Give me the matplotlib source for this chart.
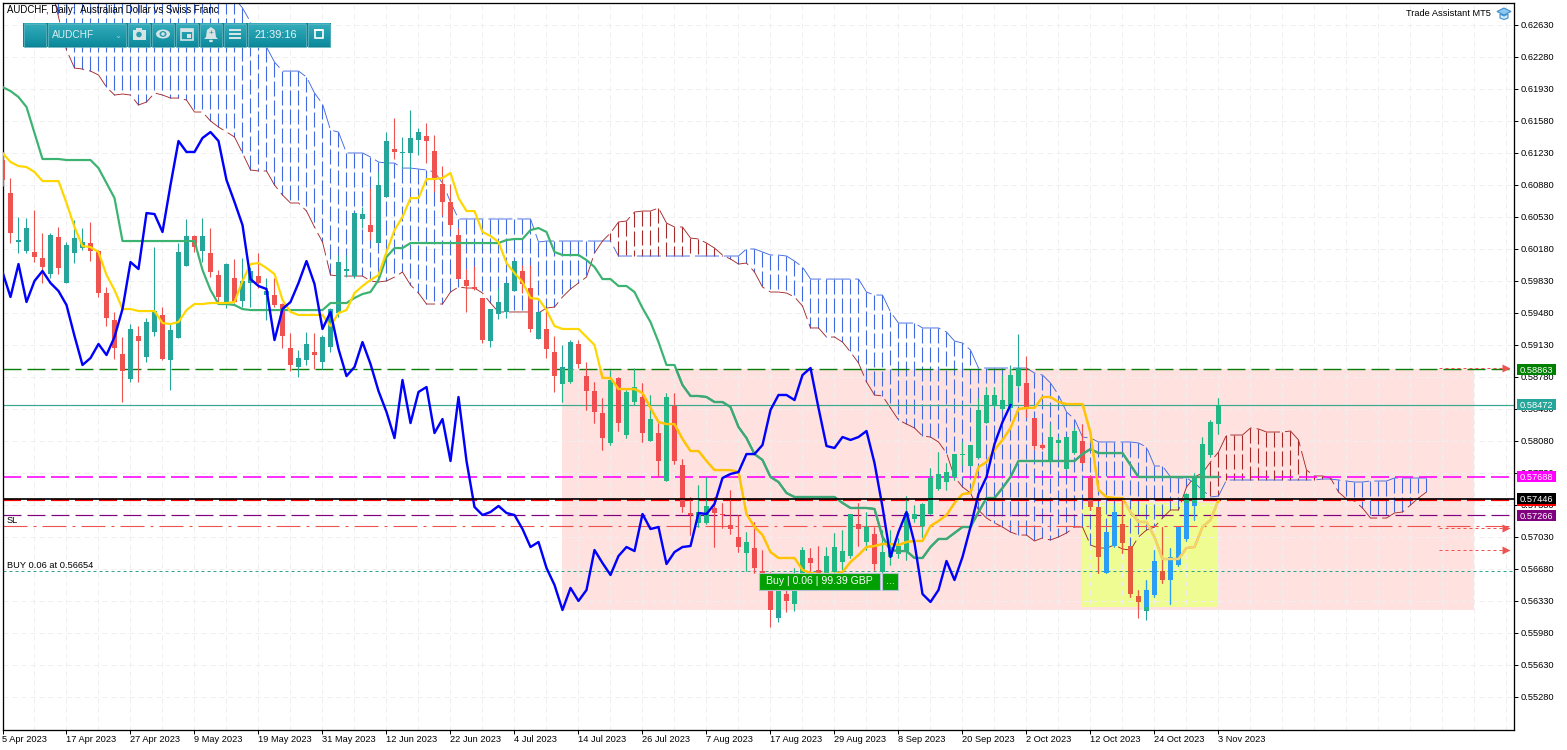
import numpy as np
import matplotlib
matplotlib.use("Agg")
import matplotlib.pyplot as plt
from matplotlib.patches import Rectangle, Ellipse, Polygon
from matplotlib.transforms import Bbox, TransformedBbox

plt.rcParams['font.family'] = ['Liberation Sans', 'DejaVu Sans']

opens = [.61150,.60789,.60253,.60155,.60144,.60078,.59903,.60308,.59805,.60133,
 .60187,.60242,.60155,.59695,.59400,.59028,.58755,.59225,.58995,.59269,
 .59455,.58963,.59203,.59991,.60319,.60155,.60133,.59892,.59597,.59859,
 .59608,.59805,.59881,.59673,.59673,.59575,.59094,.58886,.58963,.59050,
 .58941,.59105,.59477,.59936,.59881,.60505,.60439,.60242,.60745,.61270,
 .61227,.61227,.61369,.61413,.61248,.60888,.60691,.60330,.59838,.59761,
 .59641,.59170,.59466,.59488,.59717,.59936,.59750,.59192,.59302,.59050,
 .58700,.58722,.59138,.58787,.58623,.58383,.58055,.58766,.58142,.58503,
 .58558,.58077,.58164,.57639,.58459,.57814,.57289,.57180,.57180,.57344,
 .57278,.57158,.57027,.56852,.56906,.56655,.56502,.56141,.56403,.56294,
 .56447,.56797,.56666,.56633,.56644,.56753,.56819,.57169,.56972,.57059,
 .56644,.56808,.56841,.56862,.57224,.57147,.57278,.57552,.57628,.57683,
 .57923,.57803,.57891,.58273,.58470,.58427,.58438,.58678,.58711,.58328,
 .58033,.57869,.58055,.57770,.57945,.58077,.57672,.57355,.56633,.56928,
 .57169,.56928,.56381,.56217,.56392,.56655,.56556,.56720,.57005,.57366,
 .57453,.57923,.58262]
closes = [.60931,.60352,.60275,.60406,.60089,.59980,.60330,.59969,.60220,.60297,
 .60253,.60155,.59695,.59422,.59094,.58842,.59302,.59170,.59378,.59498,
 .58974,.59291,.60144,.60319,.60198,.60319,.59925,.59652,.60012,.59597,
 .59827,.59936,.59805,.59717,.59564,.59225,.58908,.58984,.59138,.59017,
 .59214,.59520,.60034,.59958,.60570,.60559,.60363,.60877,.61358,.61238,
 .61238,.61391,.61456,.61358,.60931,.60691,.60439,.59848,.59772,.59739,
 .59181,.59520,.59597,.59805,.60045,.59794,.59302,.59488,.59083,.58787,
 .58886,.59159,.58919,.58623,.58394,.58109,.58744,.58273,.58613,.58667,
 .58164,.58317,.57858,.58558,.57858,.57355,.57267,.57300,.57366,.57289,
 .57267,.57114,.56917,.56972,.56688,.56502,.56228,.56469,.56327,.56447,
 .56884,.56742,.56611,.56819,.56917,.56873,.57278,.57114,.57136,.56731,
 .56862,.56917,.56928,.57289,.57278,.57388,.57672,.57716,.57737,.57934,
 .57934,.58033,.58416,.58580,.58580,.58525,.58798,.58875,.58438,.58022,
 .58000,.58120,.58088,.58120,.58186,.57836,.57355,.56808,.57081,.57300,
 .56961,.56403,.56316,.56447,.56764,.56556,.56808,.57136,.57497,.57683,
 .58044,.58284,.58470]
highs = [.61238,.60953,.60527,.60516,.60603,.60352,.60352,.60417,.60253,.60494,
 .60406,.60472,.60166,.59761,.59488,.59214,.59356,.59334,.59422,.60198,
 .59542,.59367,.60242,.60505,.60330,.60516,.60406,.59947,.60023,.60067,
 .60078,.59980,.60133,.59859,.59859,.59586,.59258,.59072,.59269,.59258,
 .59236,.59531,.60111,.60111,.60570,.60636,.60844,.61019,.61456,.61609,
 .61402,.61697,.61500,.61555,.61423,.61084,.60888,.60406,.59958,.59991,
 .59641,.59520,.59750,.59805,.60045,.60002,.60002,.59488,.59509,.59225,
 .59127,.59181,.59181,.58941,.58722,.58547,.58853,.58777,.58634,.58875,
 .58711,.58580,.58273,.58602,.58602,.57880,.57464,.57595,.57683,.57464,
 .57399,.57541,.57267,.57081,.57191,.56884,.56644,.56556,.56447,.56688,
 .56917,.56906,.56928,.56917,.57070,.57103,.57278,.57399,.57300,.57136,
 .57103,.57103,.57016,.57475,.57377,.57399,.57781,.57956,.57836,.57934,
 .58066,.58033,.58547,.58667,.58667,.58798,.58908,.59247,.59006,.58328,
 .58055,.58262,.58120,.58120,.58219,.58262,.57705,.57355,.57081,.57377,
 .57464,.56928,.56447,.56556,.56884,.57136,.56906,.57136,.57508,.57727,
 .58120,.58306,.58547]
lows = [.60866,.60242,.60133,.60133,.60034,.59805,.59859,.59903,.59805,.60023,
 .60166,.60045,.59652,.59334,.58974,.58503,.58722,.58722,.58941,.59225,
 .58963,.58634,.59203,.59991,.60144,.60034,.59870,.59597,.59531,.59586,
 .59542,.59542,.59750,.59400,.59542,.59094,.58842,.58777,.58908,.58864,
 .58864,.59050,.59433,.59870,.59859,.60406,.60275,.60242,.60745,.61161,
 .61062,.61041,.61205,.61117,.60800,.60548,.60395,.59848,.59488,.59728,
 .59148,.59105,.59411,.59422,.59717,.59695,.59269,.59192,.58984,.58613,
 .58503,.58711,.58875,.58416,.58273,.57978,.58033,.58186,.58109,.58470,
 .58066,.58077,.57694,.57639,.57825,.57300,.57049,.57136,.57169,.56917,
 .57125,.57059,.56862,.56655,.56633,.56447,.56042,.56097,.56206,.56217,
 .56447,.56633,.56556,.56611,.56644,.56666,.56797,.56928,.56884,.56666,
 .56611,.56720,.56797,.56775,.57191,.57027,.57278,.57541,.57541,.57650,
 .57814,.57803,.57891,.58273,.58448,.58416,.58427,.58667,.58339,.57989,
 .57989,.57836,.57923,.57770,.57934,.57836,.57322,.56633,.56633,.56917,
 .56852,.56370,.56141,.56119,.56370,.56523,.56294,.56709,.56983,.57213,
 .57453,.57902,.58153]
tenkan = [.61227,.61128,.61084,.61073,.61019,.60920,.60920,.60920,.60680,.60417,
 .60209,.60198,.60144,.59892,.59728,.59520,.59520,.59498,.59498,.59498,
 .59367,.59356,.59378,.59509,.59575,.59575,.59586,.59586,.59586,.59597,
 .59827,.60012,.60023,.59969,.59903,.59619,.59488,.59455,.59455,.59455,
 .59455,.59334,.59477,.59509,.59695,.59772,.59838,.59892,.60144,.60384,
 .60527,.60734,.60734,.60942,.60942,.60953,.61008,.60734,.60592,.60592,
 .60363,.60319,.60253,.60023,.59914,.59816,.59641,.59630,.59509,.59334,
 .59302,.59302,.59302,.59214,.59127,.58766,.58766,.58645,.58645,.58645,
 .58602,.58438,.58284,.58262,.58262,.58098,.57967,.57967,.57858,.57759,
 .57759,.57759,.57737,.57278,.57136,.57049,.56862,.56797,.56797,.56797,
 .56666,.56633,.56622,.56622,.56622,.56644,.56753,.56830,.56917,.56928,
 .56950,.56950,.56939,.56972,.56983,.56983,.57147,.57202,.57267,.57399,
 .57497,.57508,.57792,.57847,.57978,.58088,.58219,.58427,.58438,.58438,
 .58558,.58558,.58503,.58481,.58481,.58481,.58164,.57541,.57464,.57453,
 .57453,.57300,.57191,.57191,.57027,.56786,.56786,.56786,.56906,.56917,
 .57136,.57213,.57431]
kijun = [.61948,.61905,.61839,.61730,.61445,.61161,.61161,.61161,.61150,.61150,
 .61150,.61150,.61062,.60898,.60734,.60264,.60264,.60264,.60264,.60264,
 .60264,.60264,.60264,.60264,.60264,.59947,.59728,.59575,.59575,.59564,
 .59520,.59509,.59509,.59509,.59509,.59509,.59509,.59509,.59509,.59509,
 .59509,.59586,.59586,.59586,.59641,.59684,.59706,.59838,.60089,.60187,
 .60187,.60242,.60242,.60242,.60242,.60242,.60242,.60242,.60242,.60242,
 .60242,.60242,.60242,.60275,.60286,.60286,.60384,.60406,.60363,.60144,
 .60111,.60111,.60111,.60056,.59980,.59848,.59848,.59772,.59772,.59706,
 .59531,.59378,.59159,.58908,.58908,.58689,.58569,.58569,.58558,.58503,
 .58503,.58448,.58230,.58109,.57934,.57869,.57683,.57628,.57508,.57464,
 .57464,.57464,.57464,.57464,.57464,.57399,.57344,.57344,.57344,.57333,
 .57027,.56884,.56873,.56873,.56797,.56797,.56917,.57005,.57005,.57070,
 .57136,.57136,.57300,.57453,.57453,.57563,.57683,.57858,.57858,.57858,
 .57858,.57858,.57858,.57858,.57858,.57934,.57989,.57945,.57945,.57945,
 .57945,.57814,.57683,.57683,.57683,.57683,.57683,.57683,.57683,.57683,
 .57683,.57683,.57683]
senkou_a = [.6420,.6418,.6415,.6412,.6410,.6405,.6400,.6395,.6390,.6385,
 .6380,.6375,.6370,.6365,.6360,.6355,.6350,.6345,.6340,.6335,
 .6330,.6325,.6320,.6315,.6310,.6306,.6302,.6298,.6295,.6292,
 .62813,.62659,.62517,.62386,.62222,.62123,.62123,.62123,.62058,.61883,
 .61763,.61478,.61456,.61227,.61227,.61227,.61183,.61128,.61117,.61117,
 .61062,.61062,.61052,.61041,.61019,.60898,.60691,.60505,.60505,.60505,
 .60505,.60505,.60505,.60505,.60505,.60505,.60505,.60253,.60264,.60264,
 .60264,.60264,.60264,.60264,.60264,.60264,.60264,.60100,.60100,.60100,
 .60100,.60100,.60100,.60100,.60100,.60100,.60100,.60100,.60100,.60100,
 .60100,.60100,.60100,.60177,.60177,.60144,.60111,.60111,.60100,.60045,
 .59980,.59848,.59848,.59848,.59848,.59848,.59848,.59848,.59706,.59673,
 .59673,.59488,.59367,.59367,.59367,.59313,.59313,.59313,.59269,.59170,
 .59148,.59072,.58875,.58875,.58875,.58875,.58875,.58875,.58875,.58820,
 .58798,.58711,.58580,.58394,.58317,.58120,.58109,.58066,.58066,.58066,
 .58066,.58066,.58055,.58011,.57803,.57803,.57683,.57672,.57672,.57617,
 .57541,.57464,.57475,.57650,.57650,.57650,.57650,.57650,.57650,.57650,
 .57650,.57650,.57650,.57650,.57650,.57661,.57661,.57650,.57639,.57628,
 .57628,.57639,.57639,.57639,.57672,.57672,.57672,.57672,.57672]
senkou_b = [.6360,.6355,.6350,.6340,.6330,.6320,.6308,.62714,.62353,.62156,
 .62145,.62123,.62080,.61948,.61861,.61872,.61861,.61752,.61784,.61883,
 .61861,.61828,.61828,.61806,.61675,.61675,.61577,.61511,.61456,.61402,
 .61227,.61041,.61030,.61030,.60877,.60767,.60680,.60680,.60592,.60417,
 .60253,.59892,.59881,.59881,.59881,.59881,.59827,.59816,.59827,.59870,
 .59925,.59783,.59695,.59575,.59575,.59575,.59706,.59761,.59750,.59750,
 .59695,.59586,.59488,.59488,.59488,.59488,.59488,.59477,.59531,.59542,
 .59652,.59739,.59805,.59870,.60133,.60264,.60352,.60472,.60483,.60581,
 .60592,.60592,.60625,.60461,.60417,.60417,.60297,.60286,.60242,.60187,
 .60111,.60067,.60012,.60023,.59925,.59761,.59706,.59706,.59695,.59652,
 .59553,.59313,.59313,.59214,.59214,.59159,.59050,.58930,.58722,.58580,
 .58569,.58438,.58306,.58262,.58219,.58131,.58120,.58066,.57945,.57683,
 .57574,.57508,.57322,.57234,.57180,.57136,.57081,.57048,.57048,.56983,
 .57016,.56994,.57027,.57070,.57136,.57136,.56939,.56906,.56906,.56939,
 .56895,.56884,.57027,.57103,.57136,.57234,.57322,.57322,.57574,.57683,
 .57726,.57847,.57956,.58142,.58142,.58142,.58219,.58208,.58175,.58175,
 .58175,.58186,.58088,.57759,.57694,.57694,.57672,.57519,.57442,.57420,
 .57344,.57234,.57234,.57234,.57289,.57300,.57377,.57453,.57519]

price_ticks = [.62630,.62280,.61930,.61580,.61230,.60880,.60530,.60180,.59830,.59480,.59130,
               .58780,.58430,.58080,.57730,.57380,.57030,.56680,.56330,.55980,.55630,.55280]
date_labels = ['5 Apr 2023','17 Apr 2023','27 Apr 2023','9 May 2023','19 May 2023','31 May 2023',
               '12 Jun 2023','22 Jun 2023','4 Jul 2023','14 Jul 2023','26 Jul 2023','7 Aug 2023',
               '17 Aug 2023','29 Aug 2023','8 Sep 2023','20 Sep 2023','2 Oct 2023','12 Oct 2023',
               '24 Oct 2023','3 Nov 2023']
level_tp, level_bid, level_magenta, level_black = 0.58863, 0.58472, 0.57688, 0.57446
level_red, level_sl, level_dashdot, level_buy = 0.57431, 0.57266, 0.57144, 0.56654
arrow_levels = [0.58878, 0.57130, 0.56881]
price_tags = [(0.58863,'#008000'),(0.58472,'#26a69a'),(0.57688,'#ff00ff'),
              (0.57431,'#ff0000'),(0.57446,'#000000'),(0.57266,'#800080')]
pink_rect = (70, 184, 0.56228, 0.58863)
yellow_rect = (134.9, 152.0, 0.56261, 0.57398)

W, H = 1567, 750
fig = plt.figure(figsize=(W/100, H/100), dpi=100, facecolor='white')
L, R, T, B = 2.5, 1514.5, 2.5, 729.5
ax = fig.add_axes([L/W, 1-B/H, (R-L)/W, (B-T)/H])
ax.set_xlim(0, 189)
ax.set_ylim(0.54921, 0.62873)
PX = 0.72
TXT = 6.7

# background rectangles
ax.add_patch(Rectangle((pink_rect[0], pink_rect[2]), pink_rect[1]-pink_rect[0], pink_rect[3]-pink_rect[2],
                       fc='#ffe2df', ec='none', zorder=0.1))
ax.add_patch(Rectangle((yellow_rect[0], yellow_rect[2]), yellow_rect[1]-yellow_rect[0], yellow_rect[3]-yellow_rect[2],
                       fc='#effc91', ec='none', zorder=0.2))

# grid, ticks
ax.set_axisbelow(True)
ax.yaxis.tick_right()
ax.set_yticks(price_ticks)
ax.set_yticklabels(['%.5f' % v for v in price_ticks], fontsize=TXT)
major = list(range(0, 153, 8))
ax.set_xticks(major)
ax.set_xticklabels(date_labels, fontsize=TXT, ha='left')
ax.set_xticks([k for k in range(0, 189, 4) if k not in major], minor=True)
ax.tick_params(axis='y', length=3.2, width=PX, pad=1, right=True, left=False)
ax.tick_params(axis='x', which='major', length=3.2, width=PX, pad=0.5)
ax.tick_params(axis='x', which='minor', length=0)
ax.grid(True, which='both', color='#efefef', lw=1*PX, linestyle=(0, (5, 4)))
for s in ax.spines.values():
    s.set_linewidth(1.3*PX)

idx = np.arange(len(closes))
o, c, h, l = map(np.array, (opens, closes, highs, lows))

# dash lengths below are given in pixels, whatever the line width
def dash(lw, *px):
    return (0, tuple(d/lw for d in px))

# Ichimoku cloud
xc = np.arange(len(senkou_a))
a, b = np.array(senkou_a), np.array(senkou_b)
bull = a >= b
hatch = dash(1.1, 15, 4)
ax.vlines(xc[bull], a[bull], b[bull], colors='#4169e1', lw=1.1*PX, linestyles=[hatch], zorder=1.5).set_snap(True)
ax.vlines(xc[~bull], b[~bull], a[~bull], colors='#a52a2a', lw=1.1*PX, linestyles=[hatch], zorder=1.5).set_snap(True)
ax.plot(xc, a, color='#4169e1', lw=0.9*PX, ls=dash(0.9, 24, 5), zorder=1.6)
ax.plot(xc, b, color='#a52a2a', lw=0.9*PX, ls=dash(0.9, 24, 5), zorder=1.6)

# horizontal levels
def level(p, color, lw, *px, z=1.8):
    ls = dash(lw, *px) if px else '-'
    ax.plot([0, 189], [p, p], color=color, lw=lw*PX, ls=ls, zorder=z, dash_capstyle='butt')
level(level_tp, '#0a7d0a', 1.4, 18, 6)
level(level_bid, '#3aa88f', 1.2)
level(level_magenta, '#ff00ff', 1.6, 18, 6)
level(level_red, '#ff0000', 2.2, 18, 6)
level(level_sl, '#800080', 1.2, 18, 6)
level(level_dashdot, '#ef5350', 1.1, 24, 6, 3, 6)
level(level_buy, '#2fa58c', 1.0, 3, 3)
for p in arrow_levels:
    ax.plot([179.6, 187.6], [p, p], color='#ef5350', lw=1.0*PX, ls=(0, (3, 3)), zorder=1.9)
    ax.plot([188.0], [p], marker='>', ms=5.5, mec='none', color='#ef5350', zorder=1.9)

# candles, repainted inside each rectangle the way the terminal blends them
def clip_to(artist, r):
    if r is not None:
        artist.set_clip_box(TransformedBbox(Bbox([[r[0], r[2]], [r[1], r[3]]]), ax.transData))

def candles(up, dn, z, r=None):
    colors = np.where(c >= o, up, dn)
    wicks = ax.vlines(idx, l, h, colors=colors, lw=1.1*PX, zorder=z)
    wicks.set_snap(True)
    clip_to(wicks, r)
    bottoms = np.minimum(o, c)
    heights = np.maximum(np.abs(c-o), 0.00012)
    for bar in ax.bar(idx, heights, bottom=bottoms, width=5/8, color=colors, linewidth=0, zorder=z+0.01):
        clip_to(bar, r)

candles('#26a69a', '#ef5350', 3.0)
candles('#22b886', '#f04d50', 3.1, pink_rect)
candles('#2a9df4', '#e55a3c', 3.2, yellow_rect)

# moving lines
def tinted(x, y, lw, base, on_pink, on_yellow, z):
    ax.plot(x, y, color=base, lw=lw*PX, zorder=z, solid_joinstyle='round')
    clip_to(ax.plot(x, y, color=on_pink, lw=lw*PX, zorder=z+0.01)[0], pink_rect)
    clip_to(ax.plot(x, y, color=on_yellow, lw=lw*PX, zorder=z+0.02)[0], yellow_rect)

tinted(idx, kijun, 2.2, '#3cb371', '#3fa878', '#8fc070', 4.0)
tinted(idx, tenkan, 2.2, '#ffd700', '#ffc20a', '#f0d27a', 4.2)
ax.plot(idx[:-26], closes[26:], color='#0000ff', lw=2.4*PX, zorder=4.5)
level(level_black, '#000000', 1.7, z=5)

# price tags on the scale
tr = ax.get_yaxis_transform()
half = 0.00060
for i, (p, col) in enumerate(price_tags):
    ax.add_patch(Rectangle((1.0018, p-half), 0.0258, 2*half, transform=tr, fc=col, ec='none', clip_on=False, zorder=20+2*i))
    ax.text(1.0018+0.0129, p, '%.5f' % p, transform=tr, color='white', fontsize=TXT, ha='center', va='center_baseline',
            zorder=21+2*i, clip_on=False)

# overlay in pixel coordinates for the terminal's interface elements
ov = fig.add_axes([0, 0, 1, 1], zorder=10)
ov.set_xlim(0, W)
ov.set_ylim(H, 0)
ov.axis('off')
ov.patch.set_alpha(0)

ov.text(7, 10, 'AUDCHF, Daily:  Australian Dollar vs Swiss Franc', fontsize=6.95, va='center', ha='left', color='black')
ov.text(1491, 14, 'Trade Assistant MT5', fontsize=TXT, va='center', ha='right', color='black')
ov.text(7, 520.5, 'SL', fontsize=TXT, va='center', ha='left', color='black')
ov.text(7, 565.5, 'BUY 0.06 at 0.56654', fontsize=TXT, va='center', ha='left', color='black')

# graduation cap
ov.add_patch(Polygon([(1497, 11.5), (1504, 8), (1511, 11.5), (1504, 15)], fc='#8fc8ee', ec='#3b8fcf', lw=0.8))
ov.add_patch(Polygon([(1500, 14), (1500, 18), (1504, 19.5), (1508, 18), (1508, 14), (1504, 16)], fc='#d5ebf9', ec='#3b8fcf', lw=0.8))

# toolbar
gradient = np.linspace(0, 1, 24).reshape(-1, 1)
cmap = matplotlib.colors.LinearSegmentedColormap.from_list('tb', ['#35adbc', '#0d8b9d'])
ov.add_patch(Rectangle((23, 23), 308, 24, fc='#137f8f', ec='none', zorder=1))
buttons = [(24, 46), (48, 126), (128, 150), (152, 174), (176, 198), (200, 222), (224, 246), (248, 306), (308, 330)]
for x0, x1 in buttons:
    ov.imshow(gradient, extent=(x0, x1, 46.5, 23.5), cmap=cmap, aspect='auto', zorder=2)
    ov.add_patch(Rectangle((x0, 23.5), x1-x0, 23, fc='none', ec='#5cb4c0', lw=0.6, zorder=3))
ov.set_xlim(0, W)
ov.set_ylim(H, 0)
ic = '#d6e4e6'
ov.text(51.5, 34.5, 'AUDCHF', fontsize=7.3, color='#d8eef1', va='center', ha='left', zorder=4)
ov.text(118, 35, '⌄', fontsize=6, color='#9fd3da', va='center', ha='center', zorder=4, family='DejaVu Sans')
ov.text(276, 34.5, '21:39:16', fontsize=7.9, color='#e4f4f6', va='center', ha='center', zorder=4)
# camera
ov.add_patch(Rectangle((132.5, 29.5), 13, 10, fc=ic, ec='none', zorder=4))
ov.add_patch(Rectangle((136, 28), 6, 2, fc=ic, ec='none', zorder=4))
ov.add_patch(Ellipse((139, 34.5), 5.5, 5.5, fc='#2a9fb0', ec='none', zorder=5))
# eye
ov.add_patch(Ellipse((163, 34), 14, 9, fc=ic, ec='none', zorder=4))
ov.add_patch(Ellipse((163, 34), 7, 6, fc='#2a9fb0', ec='none', zorder=5))
ov.add_patch(Ellipse((163, 34), 3.5, 3.5, fc=ic, ec='none', zorder=6))
# calendar
ov.add_patch(Rectangle((181, 29), 12, 11, fc='none', ec=ic, lw=1.2, zorder=4))
ov.add_patch(Rectangle((181, 29), 12, 3, fc=ic, ec='none', zorder=4))
ov.add_patch(Rectangle((187, 34), 4, 4, fc=ic, ec='none', zorder=4))
# bell
ov.add_patch(Polygon([(211, 27), (215, 30), (216, 37), (218, 39), (204, 39), (206, 37), (207, 30)], fc=ic, ec='none', zorder=4))
ov.add_patch(Ellipse((211, 41), 4, 2.5, fc=ic, ec='none', zorder=4))
ov.text(211, 33.5, '+', fontsize=6, color='#1c8a9b', ha='center', va='center', zorder=5)
# menu
for y in (30, 34, 38):
    ov.add_patch(Rectangle((229, y-1), 12, 2, fc=ic, ec='none', zorder=4))
# restore
ov.add_patch(Rectangle((314.5, 30), 8, 8, fc='none', ec='white', lw=1.2, zorder=4))
ov.add_patch(Rectangle((314, 29), 9, 2, fc='white', ec='none', zorder=4))

# order button
for x0, x1, label in [(758.5, 880, 'Buy | 0.06 | 99.39 GBP'), (882, 898, '...')]:
    ov.add_patch(Rectangle((x0, 572.5), x1-x0, 17, fc='#00a000', ec='#b5c0d0', lw=0.8, zorder=7))
    ov.text((x0+x1)/2, 581, label, color='white', fontsize=7.6, ha='center', va='center', zorder=8)

fig.savefig('out.png', dpi=100, facecolor='white')
